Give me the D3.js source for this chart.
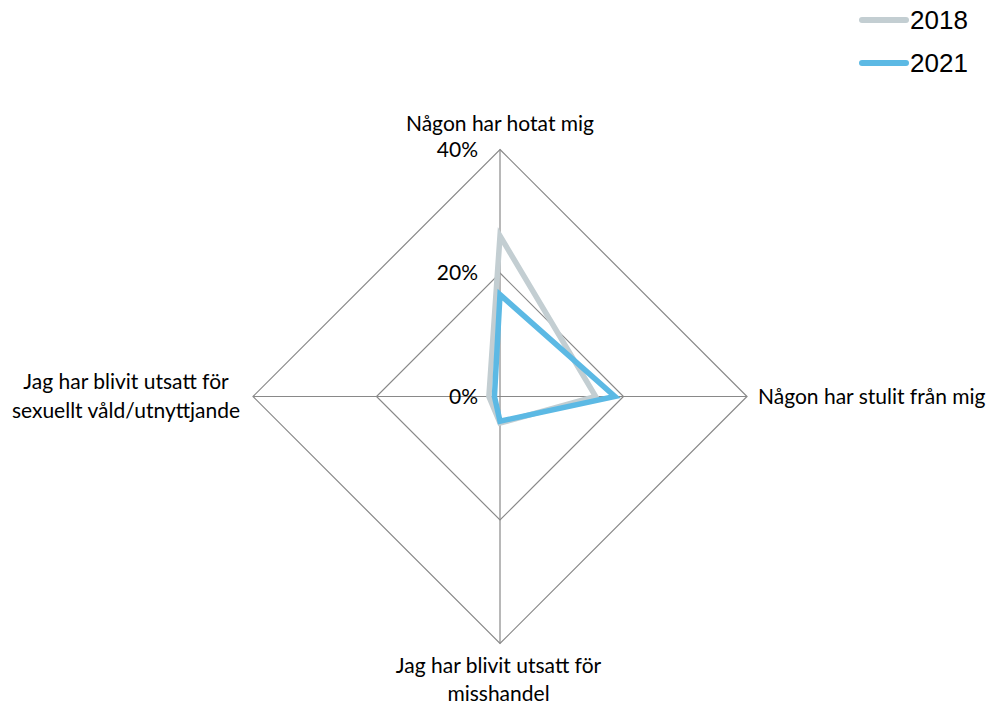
<!DOCTYPE html>
<html><head><meta charset="utf-8">
<script src="https://cdn.jsdelivr.net/npm/d3@7"></script>
<style>body{margin:0;background:#fff;} svg{display:block;}</style>
</head><body>
<svg id="c" width="994" height="709"></svg>
<script>
const categories = ["Någon har hotat mig", "Någon har stulit från mig", "Jag har blivit utsatt för misshandel", "Jag har blivit utsatt för sexuellt våld/utnyttjande"];
const series2018 = [26, 15.5, 4.3, 1.8];
const series2021 = [16.5, 18.6, 4, 0.9];
const seriesNames = ["2018", "2021"];
const tickValues = [0, 0.2, 0.4];

const svg = d3.select("#c");
const cx = 500, cy = 396.5, R = 247;
const r = d3.scaleLinear().domain([0, 0.4]).range([0, R]);
const angle = i => -Math.PI/2 + i * 2*Math.PI/categories.length;
const pt = (i, v) => [cx + r(v)*Math.cos(angle(i)), cy + r(v)*Math.sin(angle(i))];
const FONT = "Lato, Open Sans, sans-serif", FS = 21;

const grid = svg.append("g");
tickValues.filter(t => t > 0).forEach(t => {
  grid.append("path").attr("d", d3.line()(categories.map((c,i)=>pt(i,t))) + "Z")
    .attr("fill","none").attr("stroke","#898989").attr("stroke-width",1.2);
});
categories.forEach((c,i)=>{
  const p = pt(i, 0.4);
  grid.append("line").attr("x1",cx).attr("y1",cy).attr("x2",p[0]).attr("y2",p[1])
    .attr("stroke","#898989").attr("stroke-width",1.2);
});

const fmt = d3.format(".0%");
tickValues.forEach(t => {
  svg.append("text").attr("x", cx - 22).attr("y", cy - r(t) + 7)
    .attr("text-anchor","end").attr("font-family",FONT).attr("font-size",FS)
    .attr("fill","#000").text(fmt(t));
});

const colors = ["#C3CED2", "#5CB9E4"];
[series2018, series2021].forEach((s, k) => {
  svg.append("path").attr("d", d3.line()(s.map((v,i)=>pt(i, v/100))) + "Z")
    .attr("fill","none").attr("stroke",colors[k]).attr("stroke-width",5.5).attr("stroke-linejoin","miter");
});

// category labels
const lab = svg.append("g").attr("font-family",FONT).attr("font-size",FS).attr("fill","#000");
lab.append("text").attr("x", 500).attr("y", 131).attr("text-anchor","middle").text(categories[0]);
lab.append("text").attr("x", 758).attr("y", 404).attr("text-anchor","start").text(categories[1]);
const t3 = lab.append("text").attr("text-anchor","middle");
t3.append("tspan").attr("x", 498.5).attr("y", 673).text("Jag har blivit utsatt för");
t3.append("tspan").attr("x", 498.5).attr("y", 701).text("misshandel");
const t4 = lab.append("text").attr("text-anchor","middle");
t4.append("tspan").attr("x", 126).attr("y", 389).text("Jag har blivit utsatt för");
t4.append("tspan").attr("x", 126).attr("y", 418).text("sexuellt våld/utnyttjande");

// legend
seriesNames.forEach((n,k)=>{
  const y = 20 + k*43;
  svg.append("line").attr("x1",862).attr("x2",906).attr("y1",y).attr("y2",y)
    .attr("stroke",colors[k]).attr("stroke-width",6).attr("stroke-linecap","round");
  svg.append("text").attr("x",910).attr("y",y+9).attr("font-family","Liberation Sans, Arial, sans-serif")
    .attr("font-size",26).attr("fill","#000").text(n);
});
</script>
</body></html>
